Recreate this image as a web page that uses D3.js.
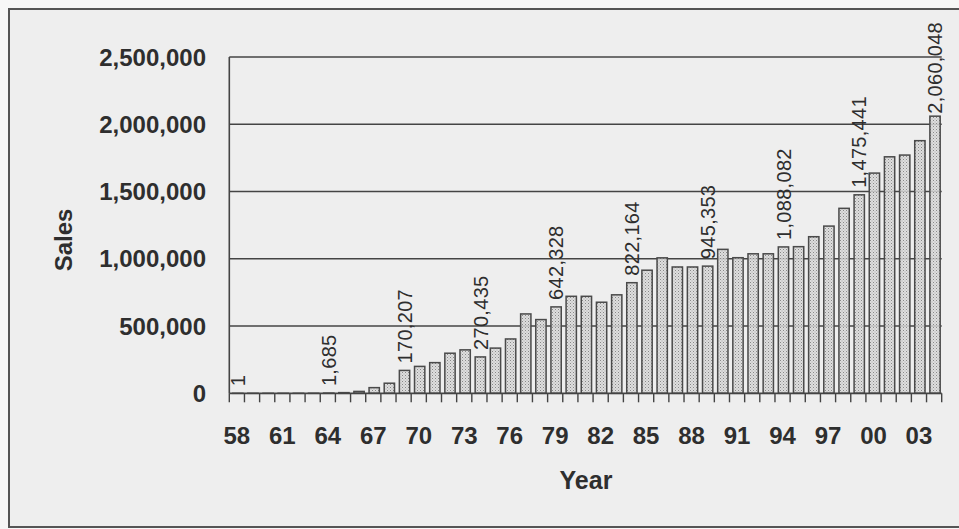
<!DOCTYPE html>
<html>
<head>
<meta charset="utf-8">
<script src="https://cdn.jsdelivr.net/npm/d3@7"></script>
<style>
  html, body { margin: 0; padding: 0; background: #f7f7f7; }
  svg { display: block; }
  text { font-family: "Liberation Sans", Arial, sans-serif; fill: #2e2e2e; }
</style>
</head>
<body>
<svg id="chart" width="959" height="529"></svg>
<script>
// ---- data ----
const years = ["58","59","60","61","62","63","64","65","66","67","68","69","70","71","72","73","74","75","76","77","78","79","80","81","82","83","84","85","86","87","88","89","90","91","92","93","94","95","96","97","98","99","00","01","02","03","04"];
const sales = [1, 5, 20, 60, 150, 500, 1685, 5000, 14000, 42000, 75000, 170207, 200000, 228000, 298000, 323000, 270435, 336000, 404000, 590000, 548000, 642328, 721000, 721000, 677000, 732000, 822164, 915000, 1007000, 939000, 939000, 945353, 1070000, 1008000, 1037000, 1037000, 1088082, 1090000, 1164000, 1243000, 1375000, 1475441, 1637000, 1758000, 1771000, 1878000, 2060048];
const labelYears = ["58","64","69","74","79","84","89","94","99","04"];
const yTicks = [0, 500000, 1000000, 1500000, 2000000, 2500000];
const xTickLabels = ["58","61","64","67","70","73","76","79","82","85","88","91","94","97","00","03"];

// ---- layout ----
const svg = d3.select("#chart");
const W = 959, H = 529;
const pL = 229.3, pR = 941.7, pT = 57, pB = 393.3;

// background + border
svg.append("rect").attr("x", 9).attr("y", 9).attr("width", W).attr("height", 518)
  .attr("fill", "#eeeeee").attr("stroke", "#555").attr("stroke-width", 2);

// pattern for bars
const defs = svg.append("defs");
const pat = defs.append("pattern").attr("id", "dots").attr("patternUnits", "userSpaceOnUse")
  .attr("width", 3).attr("height", 3);
pat.append("rect").attr("width", 3).attr("height", 3).attr("fill", "#dcdcdc").attr("fill-opacity", 0.85);
pat.append("rect").attr("x", 0).attr("y", 0).attr("width", 1).attr("height", 1).attr("fill", "#888");
pat.append("rect").attr("x", 1.5).attr("y", 1.5).attr("width", 1).attr("height", 1).attr("fill", "#a5a5a5");

const x = d3.scaleBand().domain(years).range([pL, pR]).padding(0);
const y = d3.scaleLinear().domain([0, 2500000]).range([pB, pT]);
const bw = x.bandwidth();

// gridlines
svg.append("g").selectAll("line").data(yTicks.filter(d => d > 0)).join("line")
  .attr("x1", pL).attr("x2", pR)
  .attr("y1", d => y(d)).attr("y2", d => y(d))
  .attr("stroke", "#444").attr("stroke-width", 1.6);

// y axis labels
svg.append("g").selectAll("text").data(yTicks).join("text")
  .attr("x", 206).attr("y", d => y(d)).attr("dy", "0.36em")
  .attr("text-anchor", "end").attr("font-size", 24).attr("font-weight", "bold")
  .text(d => d3.format(",")(d));

// bars
svg.append("g").selectAll("rect").data(years).join("rect")
  .attr("x", (d) => x(d) + bw * 0.22)
  .attr("width", bw * 0.68)
  .attr("y", (d, i) => y(sales[i]))
  .attr("height", (d, i) => pB - y(sales[i]))
  .attr("fill", "url(#dots)")
  .attr("stroke", "#4a4a4a").attr("stroke-width", 1.5);

// axes lines
svg.append("line").attr("x1", pL).attr("x2", pL).attr("y1", pT).attr("y2", pB)
  .attr("stroke", "#444").attr("stroke-width", 1.6);
svg.append("line").attr("x1", pL).attr("x2", pR).attr("y1", pB).attr("y2", pB)
  .attr("stroke", "#444").attr("stroke-width", 1.8);

// x ticks at band boundaries
const bounds = years.map(d => x(d)).concat([pR]);
svg.append("g").selectAll("line").data(bounds).join("line")
  .attr("x1", d => d).attr("x2", d => d).attr("y1", pB).attr("y2", pB + 9)
  .attr("stroke", "#444").attr("stroke-width", 1.4);

// x labels
svg.append("g").selectAll("text").data(xTickLabels).join("text")
  .attr("x", d => x(d) + bw / 2).attr("y", 435).attr("dy", "0.36em")
  .attr("text-anchor", "middle").attr("font-size", 24).attr("font-weight", "bold")
  .text(d => d);

// data labels
const lg = svg.append("g");
labelYears.forEach(yr => {
  const i = years.indexOf(yr);
  const v = sales[i];
  const cx = x(yr) + bw * 0.22 + bw * 0.34;
  const t = lg.append("text")
    .attr("font-size", 20)
    .attr("text-anchor", "start")
    .attr("dy", "0.36em")
    .attr("letter-spacing", "0.3")
    .text(d3.format(",")(v));
  const len = t.node().getComputedTextLength();
  const ys = Math.max(y(v) - 7, 22 + len);
  t.attr("transform", `translate(${cx},${ys}) rotate(-90)`);
});

// axis titles
svg.append("text").attr("transform", "translate(63,240) rotate(-90)")
  .attr("text-anchor", "middle").attr("dy", "0.36em")
  .attr("font-size", 24).attr("font-weight", "bold").text("Sales");
svg.append("text").attr("x", 586).attr("y", 480).attr("dy", "0.36em")
  .attr("text-anchor", "middle").attr("font-size", 25).attr("font-weight", "bold").text("Year");
</script>
</body>
</html>
